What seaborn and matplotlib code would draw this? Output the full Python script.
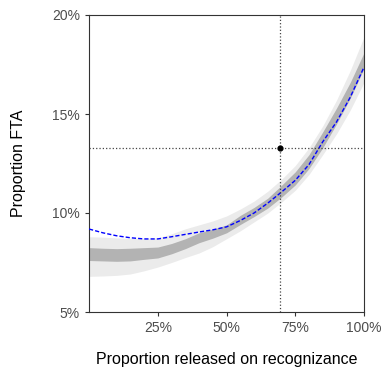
import matplotlib
matplotlib.use("Agg")
import matplotlib.pyplot as plt
import seaborn as sns
import pandas as pd
from matplotlib.ticker import FuncFormatter

# proportion released on recognizance
release = [0.0, 0.05, 0.10, 0.15, 0.20, 0.25, 0.30, 0.35, 0.40, 0.45, 0.50,
           0.55, 0.60, 0.65, 0.70, 0.75, 0.80, 0.85, 0.90, 0.95, 1.00]
# simulated FTA (percent): inner and outer band bounds
inner_lo = [7.60, 7.58, 7.56, 7.58, 7.66, 7.73, 7.94, 8.20, 8.50, 8.73, 9.00,
            9.42, 9.82, 10.25, 10.80, 11.42, 12.25, 13.30, 14.50, 15.80, 17.30]
inner_hi = [8.25, 8.22, 8.20, 8.22, 8.25, 8.28, 8.46, 8.70, 9.00, 9.18, 9.40,
            9.88, 10.28, 10.75, 11.40, 12.08, 12.95, 14.10, 15.30, 16.60, 18.10]
outer_lo = [6.80, 6.82, 6.85, 6.92, 7.08, 7.27, 7.50, 7.75, 7.98, 8.30, 8.70,
            9.10, 9.55, 10.00, 10.55, 11.15, 11.95, 12.95, 14.00, 15.20, 16.60]
outer_hi = [8.80, 8.78, 8.74, 8.72, 8.72, 8.74, 8.95, 9.20, 9.40, 9.60, 9.85,
            10.20, 10.60, 11.10, 11.70, 12.40, 13.30, 14.40, 15.70, 17.20, 18.90]
# model curve (blue dashed)
fta_obs = [9.19, 9.00, 8.85, 8.75, 8.69, 8.69, 8.80, 8.92, 9.04, 9.15, 9.30,
           9.62, 10.00, 10.50, 11.06, 11.65, 12.45, 13.60, 14.60, 15.85, 17.37]
# current point
cur_release = 0.695
cur_fta = 13.28

df = pd.DataFrame({"release": release, "obs": fta_obs})

fig = plt.figure(figsize=(3.84, 3.75), dpi=100)
ax = fig.add_axes([0.232, 0.168, 0.716, 0.792])

ax.fill_between(release, outer_lo, outer_hi, color="#ebebeb", lw=0, zorder=1)
ax.fill_between(release, inner_lo, inner_hi, color="#b3b3b3", lw=0, zorder=2)
sns.lineplot(data=df, x="release", y="obs", ax=ax, color="blue",
             linestyle=(0, (3, 1.5)), lw=1.0, zorder=3)

ax.axvline(cur_release, color="#444444", linestyle=":", lw=0.9, zorder=4)
ax.axhline(cur_fta, color="#444444", linestyle=":", lw=0.9, zorder=4)
ax.scatter([cur_release], [cur_fta], color="black", s=12, zorder=5)

ax.set_xlim(0, 1)
ax.set_ylim(5, 20)
ax.set_xticks([0.25, 0.5, 0.75, 1.0])
ax.set_yticks([5, 10, 15, 20])
ax.xaxis.set_major_formatter(FuncFormatter(lambda v, p: f"{v*100:.0f}%"))
ax.yaxis.set_major_formatter(FuncFormatter(lambda v, p: f"{v:.0f}%"))
ax.tick_params(labelsize=10, labelcolor="#4d4d4d", color="#333333",
               length=3, width=0.8)
for s in ax.spines.values():
    s.set_color("#333333")
    s.set_linewidth(0.8)

ax.set_xlabel("Proportion released on recognizance", fontsize=11.5,
              labelpad=12, family="Liberation Sans")
ax.set_ylabel("Proportion FTA", fontsize=11.5, labelpad=19,
              family="Liberation Sans")
for lab in ax.get_xticklabels() + ax.get_yticklabels():
    lab.set_family("Liberation Sans")

fig.savefig("out.png", dpi=100)
